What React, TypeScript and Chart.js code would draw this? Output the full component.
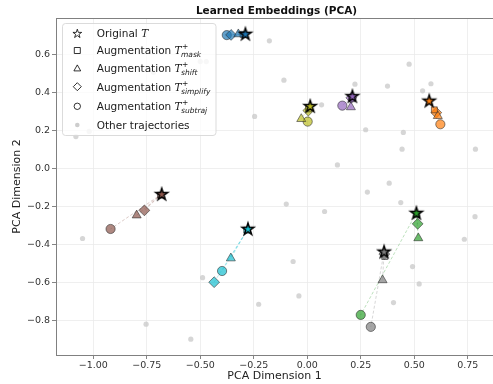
import React, { useEffect, useRef } from 'react';
import { Chart, registerables } from 'chart.js';
Chart.register(...registerables);

// ---------- DATA ----------
// clusters: blue, orange, olive, purple, brown, cyan, green, gray
const originalX = [-0.289, 0.570, 0.014, 0.211, -0.680, -0.277, 0.510, 0.359];
const originalY = [0.707, 0.355, 0.327, 0.379, -0.136, -0.319, -0.235, -0.439];

const maskX = [-0.300, 0.594, 0.006, 0.208, -0.686, -0.283, 0.512, 0.362];
const maskY = [0.704, 0.307, 0.312, 0.365, -0.142, -0.326, -0.245, -0.465];

const shiftX = [-0.322, 0.610, -0.028, 0.204, -0.797, -0.357, 0.519, 0.352];
const shiftY = [0.705, 0.275, 0.259, 0.321, -0.248, -0.474, -0.368, -0.589];

const simplifyX = [-0.356, 0.603, 0.005, 0.206, -0.761, -0.435, 0.516, 0.360];
const simplifyY = [0.701, 0.292, 0.303, 0.370, -0.222, -0.600, -0.293, -0.452];

const subtrajX = [-0.376, 0.622, 0.002, 0.164, -0.919, -0.398, 0.250, 0.297];
const subtrajY = [0.700, 0.231, 0.245, 0.329, -0.320, -0.541, -0.772, -0.835];

const otherX = [-0.177, -0.500, -0.472, -0.719, -0.109, 0.476, 0.223, 0.375, 0.578, 0.539,
  0.067, -0.246, 0.273, 0.449, 0.443, 0.786, -1.019, -1.081, 0.141, 0.281,
  0.383, -0.098, 0.081, 0.437, 0.784, -1.050, 0.734, -0.066, 0.492, 0.523,
  -0.489, -0.039, -0.227, 0.403, -0.753, -0.544];
const otherY = [0.670, 0.561, 0.561, 0.505, 0.463, 0.547, 0.442, 0.432, 0.444, 0.407,
  0.333, 0.272, 0.202, 0.188, 0.100, 0.100, 0.193, 0.166, 0.017, -0.126,
  -0.079, -0.189, -0.228, -0.181, -0.255, -0.370, -0.374, -0.491, -0.518, -0.609,
  -0.576, -0.672, -0.716, -0.707, -0.821, -0.900];

const xTicks = [-1.0, -0.75, -0.5, -0.25, 0.0, 0.25, 0.5, 0.75];
const yTicks = [-0.8, -0.6, -0.4, -0.2, 0.0, 0.2, 0.4, 0.6];

const titleText = 'Learned Embeddings (PCA)';
const xLabel = 'PCA Dimension 1';
const yLabel = 'PCA Dimension 2';
const augSubscripts = ['mask', 'shift', 'simplify', 'subtraj'];

// ---------- STYLE ----------
const clusterColors = ['#1f77b4', '#ff7f0e', '#bcbd22', '#9467bd', '#8c564b', '#17becf', '#2ca02c', '#7f7f7f'];
const FONT = '"DejaVu Sans", Arial, sans-serif';

function hexA(hex: string, a: number) {
  const n = parseInt(hex.slice(1), 16);
  return `rgba(${(n >> 16) & 255},${(n >> 8) & 255},${n & 255},${a})`;
}

function starPath(ctx: CanvasRenderingContext2D, cx: number, cy: number, R: number) {
  const r = R * 0.381966;
  ctx.beginPath();
  for (let i = 0; i < 10; i++) {
    const ang = -Math.PI / 2 + (i * Math.PI) / 5;
    const rr = i % 2 ? r : R;
    ctx.lineTo(cx + rr * Math.cos(ang), cy + rr * Math.sin(ang));
  }
  ctx.closePath();
}

function makeStar(fill: string, R: number, lw: number) {
  const c = document.createElement('canvas');
  const s = Math.ceil(2 * R + lw * 2 + 4);
  c.width = s;
  c.height = s;
  const ctx = c.getContext('2d')!;
  starPath(ctx, s / 2, s / 2 + 0.5, R);
  ctx.fillStyle = fill;
  ctx.fill();
  ctx.lineWidth = lw;
  ctx.strokeStyle = '#000';
  ctx.lineJoin = 'miter';
  ctx.stroke();
  return c;
}

function fmt(v: number, d: number) {
  const s = v.toFixed(d);
  return s.startsWith('-') ? '\u2212' + s.slice(1) : s;
}

const overlayPlugin = {
  id: 'overlay',
  afterDraw(chart: any) {
    const { ctx, chartArea } = chart;
    ctx.save();
    // top spine
    ctx.strokeStyle = '#808080';
    ctx.lineWidth = 1;
    ctx.beginPath();
    ctx.moveTo(chartArea.left, chartArea.top + 0.5);
    ctx.lineTo(chartArea.right, chartArea.top + 0.5);
    ctx.stroke();
    // title
    ctx.fillStyle = '#111';
    ctx.font = `bold 10.5px ${FONT}`;
    ctx.textAlign = 'center';
    ctx.textBaseline = 'middle';
    ctx.fillText(titleText, (chartArea.left + chartArea.right) / 2 + 2, 11);

    // legend box
    const bx = 62.5, by = 23.5, bw = 153.5, bh = 112;
    ctx.beginPath();
    ctx.roundRect(bx, by, bw, bh, 3);
    ctx.fillStyle = 'rgba(255,255,255,0.8)';
    ctx.fill();
    ctx.strokeStyle = 'rgba(215,215,215,0.9)';
    ctx.lineWidth = 1;
    ctx.stroke();

    const mx = 77.3;
    const tx = 96.7;
    const rows = [33.3, 50.5, 68.5, 86.7, 106.3, 125];
    ctx.lineWidth = 0.8;
    ctx.strokeStyle = '#000';
    ctx.fillStyle = '#fff';
    // star
    starPath(ctx, mx, rows[0] + 0.5, 4.6);
    ctx.fill(); ctx.stroke();
    // square
    ctx.beginPath(); ctx.rect(mx - 3, rows[1] - 3, 6, 6); ctx.fill(); ctx.stroke();
    // triangle
    ctx.beginPath();
    ctx.moveTo(mx, rows[2] - 3.6); ctx.lineTo(mx + 3.4, rows[2] + 2.4); ctx.lineTo(mx - 3.4, rows[2] + 2.4); ctx.closePath();
    ctx.fill(); ctx.stroke();
    // diamond
    ctx.beginPath();
    ctx.moveTo(mx, rows[3] - 4); ctx.lineTo(mx + 4, rows[3]); ctx.lineTo(mx, rows[3] + 4); ctx.lineTo(mx - 4, rows[3]); ctx.closePath();
    ctx.fill(); ctx.stroke();
    // circle
    ctx.beginPath(); ctx.arc(mx, rows[4], 3.2, 0, Math.PI * 2); ctx.fill(); ctx.stroke();
    // gray dot
    ctx.beginPath(); ctx.arc(mx, rows[5], 2.3, 0, Math.PI * 2); ctx.fillStyle = 'rgba(200,200,200,0.9)'; ctx.fill();

    ctx.textAlign = 'left';
    ctx.textBaseline = 'alphabetic';
    ctx.fillStyle = '#1a1a1a';
    const base = 3.8;
    const drawT = (x: number, y: number) => {
      ctx.font = `italic 10.5px "DejaVu Serif", serif`;
      ctx.fillText('T', x, y);
      return ctx.measureText('T').width;
    };
    // row 0
    ctx.font = `10.5px ${FONT}`;
    ctx.fillText('Original ', tx, rows[0] + base);
    let w = ctx.measureText('Original ').width;
    drawT(tx + w, rows[0] + base);
    // aug rows
    for (let i = 0; i < 4; i++) {
      const y = rows[i + 1] + base;
      ctx.font = `10.5px ${FONT}`;
      ctx.fillText('Augmentation ', tx, y);
      w = ctx.measureText('Augmentation ').width;
      const tw = drawT(tx + w, y);
      ctx.font = `7.5px ${FONT}`;
      ctx.fillText('+', tx + w + tw + 0.5, y - 5);
      ctx.font = `italic 7.5px ${FONT}`;
      ctx.fillText(augSubscripts[i], tx + w + tw - 0.5, y + 3);
    }
    ctx.font = `10.5px ${FONT}`;
    ctx.fillText('Other trajectories', tx, rows[5] + base);
    ctx.restore();
  },
};

export default function App() {
  const ref = useRef<HTMLCanvasElement>(null);
  useEffect(() => {
    document.body.style.margin = '0';
    const datasets: any[] = [];
    datasets.push({
      data: otherX.map((x, i) => ({ x, y: otherY[i] })),
      pointRadius: 2.6,
      pointBackgroundColor: 'rgba(200,200,200,0.75)',
      pointBorderWidth: 0,
      order: 4,
    });
    const augX = [maskX, shiftX, simplifyX, subtrajX];
    const augY = [maskY, shiftY, simplifyY, subtrajY];
    const augStyles = ['rect', 'triangle', 'rectRot', 'circle'];
    const augRadius = [4.2, 5.2, 5.4, 4.6];
    clusterColors.forEach((col, c) => {
      for (let a = 0; a < 4; a++) {
        datasets.push({
          data: [
            { x: originalX[c], y: originalY[c] },
            { x: augX[a][c], y: augY[a][c] },
          ],
          showLine: true,
          borderColor: hexA(col, 0.45),
          borderWidth: 0.7,
          borderDash: [3, 2],
          pointRadius: 0,
          order: 3,
        });
      }
    });
    for (let a = 0; a < 4; a++) {
      datasets.push({
        data: augX[a].map((x, i) => ({ x, y: augY[a][i] })),
        pointStyle: augStyles[a],
        pointRadius: augRadius[a],
        pointBackgroundColor: clusterColors.map((c) => hexA(c, 0.7)),
        pointBorderColor: 'rgba(40,40,40,0.7)',
        pointBorderWidth: 0.8,
        order: 2,
      });
    }
    datasets.push({
      data: originalX.map((x, i) => ({ x, y: originalY[i] })),
      pointStyle: clusterColors.map((c) => makeStar(c, 6.2, 1.5)),
      pointRadius: 7,
      order: 0,
    });

    const chart = new Chart(ref.current!, {
      type: 'scatter',
      data: { datasets },
      options: {
        animation: false,
        responsive: false,
        events: [],
        layout: { padding: { top: 18, left: 0, right: 0, bottom: 0 }, autoPadding: false },
        plugins: { legend: { display: false }, tooltip: { enabled: false }, title: { display: false } },
        scales: {
          x: {
            type: 'linear',
            min: -1.174,
            max: 0.868,
            afterBuildTicks: (s: any) => { s.ticks = xTicks.map((v) => ({ value: v })); },
            afterFit: (s: any) => { s.height = 29; },
            ticks: {
              callback: (v: any) => fmt(Number(v), 2),
              font: { family: FONT, size: 9.5 },
              color: '#333',
              padding: 1,
              maxRotation: 0,
              autoSkip: false,
            },
            grid: { color: '#ebebeb', lineWidth: 0.8, tickColor: '#666', tickLength: 4 },
            border: { color: '#808080', width: 1 },
            title: { display: true, text: xLabel, font: { family: FONT, size: 11 }, color: '#222', padding: { top: 0, bottom: 1 } },
          },
          y: {
            type: 'linear',
            min: -0.983,
            max: 0.79,
            afterBuildTicks: (s: any) => { s.ticks = yTicks.map((v) => ({ value: v })); },
            afterFit: (s: any) => { s.width = 56; },
            ticks: {
              callback: (v: any) => fmt(Number(v), 1),
              font: { family: FONT, size: 9.5 },
              color: '#333',
              padding: 2,
              autoSkip: false,
            },
            grid: { color: '#ebebeb', lineWidth: 0.8, tickColor: '#666', tickLength: 4 },
            border: { color: '#808080', width: 1 },
            title: { display: true, text: yLabel, font: { family: FONT, size: 11 }, color: '#222', padding: { top: 11, bottom: 0 } },
          },
        },
      },
      plugins: [overlayPlugin],
    });
    return () => chart.destroy();
  }, []);
  return (
    <div style={{ position: 'absolute', left: 0, top: 0, width: 493, height: 384, background: '#fff' }}>
      <canvas ref={ref} width={493} height={384} style={{ display: 'block', width: 493, height: 384 }} />
    </div>
  );
}
